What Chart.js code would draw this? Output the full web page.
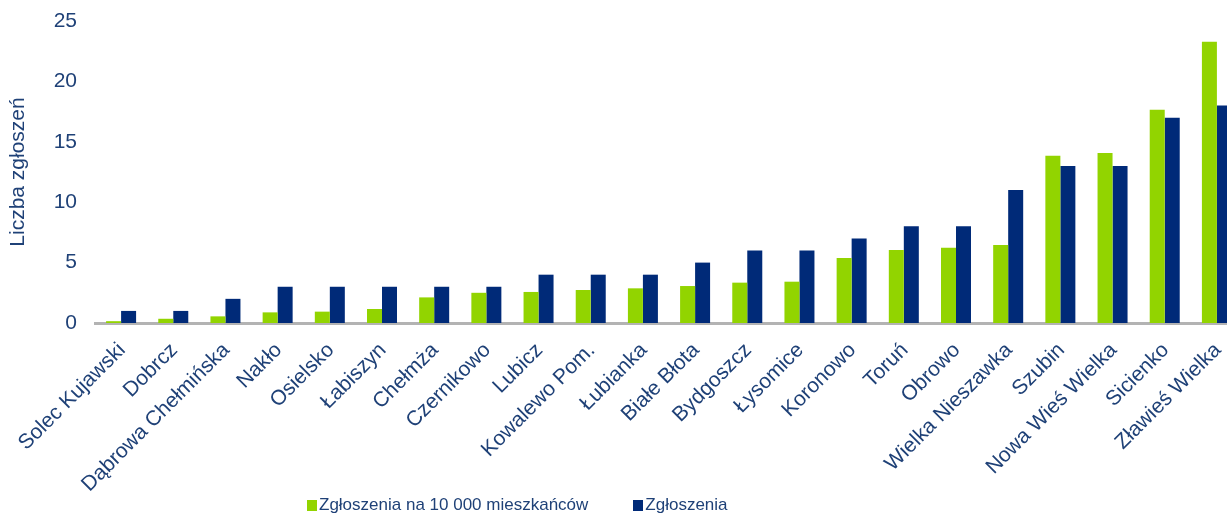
<!DOCTYPE html>
<html lang="pl">
<head>
<meta charset="utf-8">
<title>Zgłoszenia</title>
<script src="https://cdn.jsdelivr.net/npm/chart.js@4"></script>
<style>
  html, body { margin: 0; padding: 0; background: #fff; overflow: hidden; }
  .wrap { position: absolute; left: 0; top: 0; width: 1243px; height: 515px; }
  .legend { position: absolute; left: 307px; top: 495px; margin: 0; padding: 0; list-style: none;
            display: flex; font: 17px "Liberation Sans", Arial, sans-serif; color: #1f4177; }
  .legend li { display: flex; align-items: center; margin-right: 45px; white-space: nowrap; }
  .legend span.box { display: inline-block; width: 10px; height: 11px; margin-right: 2px; }
</style>
</head>
<body>
<div class="wrap"><canvas class="my-chart"></canvas></div>
<ul class="legend"></ul>
<script>
const gminy = ["Solec Kujawski", "Dobrcz", "Dąbrowa Chełmińska", "Nakło", "Osielsko", "Łabiszyn",
    "Chełmża", "Czernikowo", "Lubicz", "Kowalewo Pom.", "Łubianka", "Białe Błota", "Bydgoszcz",
    "Łysomice", "Koronowo", "Toruń", "Obrowo", "Wielka Nieszawka", "Szubin", "Nowa Wieś Wielka",
    "Sicienko", "Zławieś Wielka"];
const naMieszkancow = [0.15, 0.35, 0.55, 0.88, 0.94, 1.16, 2.12, 2.5, 2.57, 2.73, 2.87, 3.06, 3.34,
    3.42, 5.38, 6.04, 6.23, 6.46, 13.85, 14.07, 17.66, 23.29];
const zgloszenia = [1, 1, 2, 3, 3, 3, 3, 3, 4, 4, 4, 5, 6, 6, 7, 8, 8, 11, 13, 13, 17, 18];
const yTicks = [0, 5, 10, 15, 20, 25];

const textColor = "#1f4177";
const font = "'Liberation Sans', Arial, sans-serif";

const ctx = document.querySelector(".my-chart").getContext("2d");
ctx.canvas.width = 1243;
ctx.canvas.height = 515;

const chart = new Chart(ctx, {
    type: "bar",
    data: {
        labels: gminy,
        datasets: [{
            label: "Zgłoszenia na 10 000 mieszkańców",
            data: naMieszkancow,
            backgroundColor: "#92d400",
        }, {
            label: "Zgłoszenia",
            data: zgloszenia,
            backgroundColor: "#002a78",
        }]
    },
    options: {
        responsive: false,
        animation: false,
        categoryPercentage: 0.575,
        barPercentage: 1,
        layout: { padding: { top: 21, left: 0, right: 0, bottom: 0 } },
        plugins: {
            legend: { display: false },
            tooltip: { enabled: false },
        },
        scales: {
            x: {
                grid: { display: false, drawTicks: false },
                border: { display: true, color: "#b3b3b3", width: 3 },
                ticks: {
                    color: textColor,
                    font: { family: font, size: 21 },
                    minRotation: 45,
                    maxRotation: 45,
                    autoSkip: false,
                    padding: 15,
                    labelOffset: 1,
                },
                afterFit: (scale) => {
                    scale.height = 192;
                    scale.paddingLeft = 0;
                    scale.paddingRight = 0;
                },
            },
            y: {
                min: 0,
                max: 25,
                grid: { display: false, drawTicks: false },
                border: { display: false },
                afterBuildTicks: (scale) => { scale.ticks = yTicks.map(v => ({ value: v })); },
                ticks: {
                    color: textColor,
                    font: { family: font, size: 21 },
                    padding: 18,
                },
                title: {
                    display: true,
                    text: "Liczba zgłoszeń",
                    color: textColor,
                    font: { family: font, size: 21 },
                    padding: { top: 6, bottom: 0 },
                },
                afterFit: (scale) => {
                    scale.width = 95;
                    scale.paddingTop = 0;
                    scale.paddingBottom = 0;
                },
            }
        }
    }
});

// legend built from the datasets
const ul = document.querySelector(".legend");
chart.data.datasets.forEach((ds) => {
    const li = document.createElement("li");
    li.innerHTML = `<span class="box" style="background:${ds.backgroundColor}"></span>${ds.label}`;
    ul.appendChild(li);
});
</script>
</body>
</html>
